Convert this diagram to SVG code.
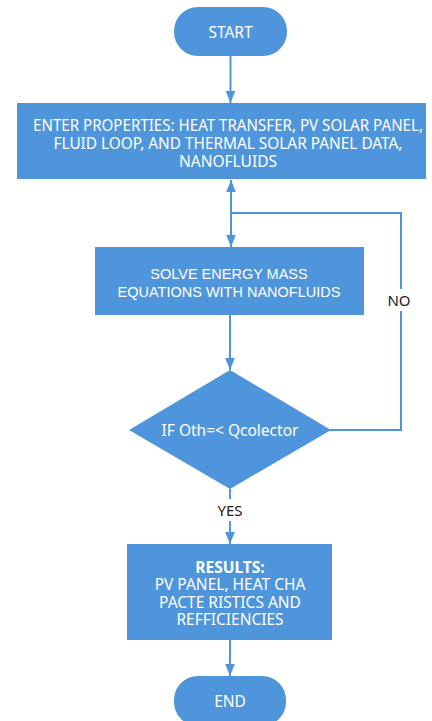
<svg xmlns="http://www.w3.org/2000/svg" width="432" height="721" viewBox="0 0 432 721">
<style>
.n{fill:#4f95db;stroke:none}
.t{fill:#fff;font-family:"Noto Sans","Open Sans",sans-serif;font-size:15.5px;text-anchor:middle;dominant-baseline:central}
.a{font-family:"Liberation Sans",Arial,sans-serif;font-size:14.5px}
.c{fill:none;stroke:#4f95db;stroke-width:2}
.l{fill:#222;font-family:"Noto Sans","Open Sans",sans-serif;font-size:15px;text-anchor:middle;dominant-baseline:central}
</style>
<defs>
<marker id="ah" markerUnits="userSpaceOnUse" markerWidth="12" markerHeight="16" refX="15" refY="6" viewBox="0 0 15 12" orient="auto"><path d="M0,0 L15,6 L0,12 Z" fill="#4f95db"/></marker>
</defs>
<rect width="432" height="721" fill="#fff"/>
<g id="connectors">
<path class="c" d="M230.5,56 V103" marker-end="url(#ah)"/>
<path class="c" d="M231,213 V180" marker-end="url(#ah)"/>
<path class="c" d="M231,213 V247" marker-end="url(#ah)"/>
<path class="c" d="M231,213 H401 V430 H330"/>
<path class="c" d="M230,315 V370" marker-end="url(#ah)"/>
<path class="c" d="M230,489 V544" marker-end="url(#ah)"/>
<path class="c" d="M230,640 V676" marker-end="url(#ah)"/>
<rect x="386" y="289" width="28" height="22" fill="#fff"/>
<text class="l a" x="399" y="300">NO</text>
<rect x="212" y="499" width="36" height="22" fill="#fff"/>
<text class="l" x="230" y="510">YES</text>
</g>
<g id="start">
<rect class="n" x="174" y="7" width="113" height="49" rx="24"/>
<text class="t" x="230.5" y="32">START</text>
</g>
<g id="enter">
<rect class="n" x="17" y="103" width="409" height="76"/>
<text class="t" x="228" y="125" textLength="390" lengthAdjust="spacingAndGlyphs">ENTER PROPERTIES: HEAT TRANSFER, PV SOLAR PANEL,</text>
<text class="t" x="228" y="143" textLength="349" lengthAdjust="spacingAndGlyphs">FLUID LOOP, AND THERMAL SOLAR PANEL DATA,</text>
<text class="t" x="228" y="161">NANOFLUIDS</text>
</g>
<g id="solve">
<rect class="n" x="95" y="247" width="269" height="68"/>
<text class="t a" x="229" y="274">SOLVE ENERGY MASS</text>
<text class="t a" x="229" y="292">EQUATIONS WITH NANOFLUIDS</text>
</g>
<g id="decision">
<polygon class="n" points="230,370 331,430 230,489 129,430"/>
<text class="t" x="230" y="430">IF Oth=&lt; Qcolector</text>
</g>
<g id="results">
<rect class="n" x="127" y="544" width="205" height="96"/>
<text class="t" x="230" y="567" font-weight="bold">RESULTS:</text>
<text class="t" x="230" y="584">PV PANEL, HEAT CHA</text>
<text class="t" x="230" y="602">PACTE RISTICS AND</text>
<text class="t" x="230" y="619">REFFICIENCIES</text>
</g>
<g id="end">
<rect class="n" x="174" y="676" width="112" height="50" rx="24"/>
<text class="t" x="230" y="701">END</text>
</g>
</svg>
